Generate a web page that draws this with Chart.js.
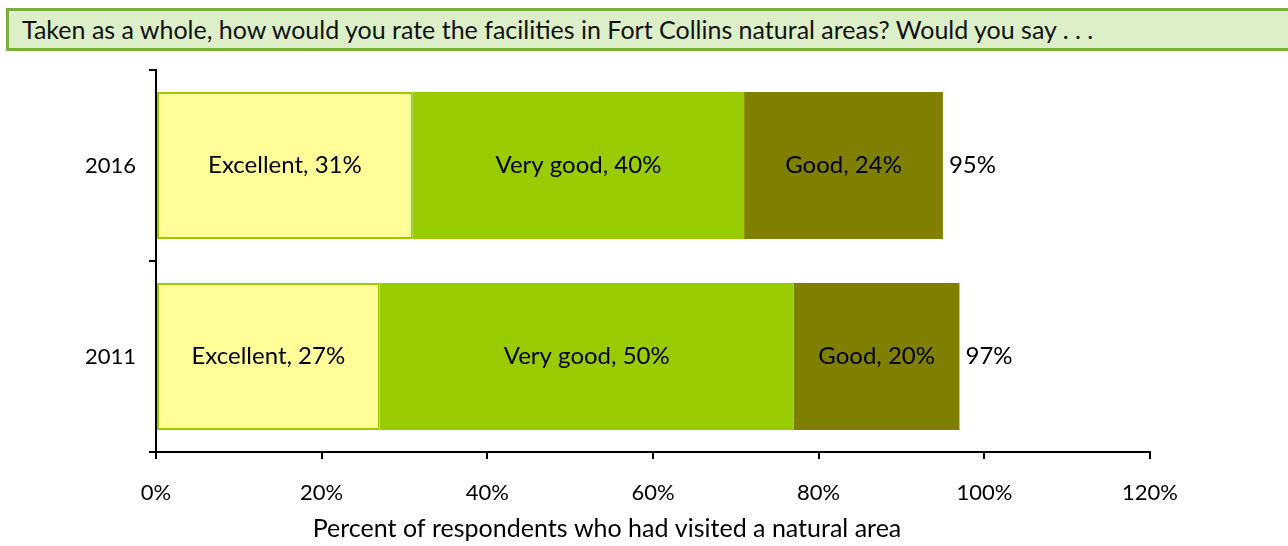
<!DOCTYPE html>
<html>
<head>
<meta charset="utf-8">
<script src="https://cdn.jsdelivr.net/npm/chart.js"></script>
<style>
  html, body { margin: 0; padding: 0; background: #fff; }
  #wrap { position: relative; width: 1288px; height: 546px; }
  #question {
    position: absolute; left: 6px; top: 8px; width: 1273px; height: 37px;
    border: 3px solid #77B13C; background: #DDEFC9;
    font-family: Lato, "Open Sans", sans-serif; font-size: 25px; color: #111;
    line-height: 37px; padding-left: 13px; box-sizing: content-box; white-space: nowrap;
  }
  #chart { position: absolute; left: 0; top: 0; }
</style>
</head>
<body>
<div id="wrap">
  <canvas id="chart" width="1288" height="546"></canvas>
  <div id="question">Taken as a whole, how would you rate the facilities in Fort Collins natural areas? Would you say . . .</div>
</div>
<script>
const years = ["2016", "2011"];
const ratingNames = ["Excellent", "Very good", "Good"];
const excellent = [31, 27];
const veryGood = [40, 50];
const good = [24, 20];
const totals = [95, 97];
const xTicks = [0, 20, 40, 60, 80, 100, 120];
const xTitle = 'Percent of respondents who had visited a natural area';

const fontFamily = 'Lato, "Open Sans", sans-serif';

// labels inside segments + total at bar end
const barLabels = {
  id: 'barLabels',
  afterDatasetsDraw(chart) {
    const ctx = chart.ctx;
    ctx.save();
    ctx.font = '24px ' + fontFamily;
    ctx.fillStyle = '#000';
    ctx.textBaseline = 'middle';
    chart.data.datasets.forEach((ds, di) => {
      chart.getDatasetMeta(di).data.forEach((bar, i) => {
        const { x, y, base } = bar.getProps(['x', 'y', 'base'], true);
        ctx.textAlign = 'center';
        ctx.fillText(ratingNames[di] + ', ' + ds.data[i] + '%', (x + base) / 2, y);
        if (di === chart.data.datasets.length - 1) {
          ctx.textAlign = 'left';
          ctx.fillText(totals[i] + '%', x + 6, y);
        }
      });
    });
    // axis title, sits a bit left of the plot centre in the original
    const area = chart.chartArea;
    ctx.font = '25px ' + fontFamily;
    ctx.textAlign = 'center';
    ctx.fillText(xTitle, (area.left + area.right) / 2 - 46, chart.height - 17);
    ctx.restore();
  }
};

new Chart(document.getElementById('chart'), {
  type: 'bar',
  data: {
    labels: years,
    datasets: [
      { label: ratingNames[0], data: excellent, backgroundColor: '#FFFF99', borderColor: '#99CC00', borderWidth: 2, borderSkipped: false },
      { label: ratingNames[1], data: veryGood, backgroundColor: '#99CC00', borderWidth: 0 },
      { label: ratingNames[2], data: good, backgroundColor: '#808000', borderWidth: 0 }
    ]
  },
  options: {
    indexAxis: 'y',
    responsive: false,
    animation: false,
    events: [],
    categoryPercentage: 1,
    barPercentage: 0.77,
    layout: { padding: { top: 70, right: 138, left: 0, bottom: 0 } },
    plugins: { legend: { display: false }, tooltip: { enabled: false } },
    scales: {
      x: {
        stacked: true, min: 0, max: 120,
        afterBuildTicks: (s) => { s.ticks = xTicks.map(v => ({ value: v })); },
        afterFit: (s) => { s.height = 94; },
        border: { display: true, color: '#000', width: 2 },
        grid: { drawOnChartArea: false, drawTicks: true, tickLength: 7, color: '#000', lineWidth: 2 },
        ticks: { color: '#000', padding: 21, font: { family: fontFamily, size: 22 }, callback: v => v + '%' }
      },
      y: {
        stacked: true,
        afterFit: (s) => { s.width = 156; },
        border: { display: true, color: '#000', width: 2 },
        grid: { offset: true, drawOnChartArea: false, drawTicks: true, tickLength: 7, color: '#000', lineWidth: 2 },
        ticks: { color: '#000', padding: 13, font: { family: fontFamily, size: 22 } }
      }
    }
  },
  plugins: [barLabels]
});
</script>
</body>
</html>
